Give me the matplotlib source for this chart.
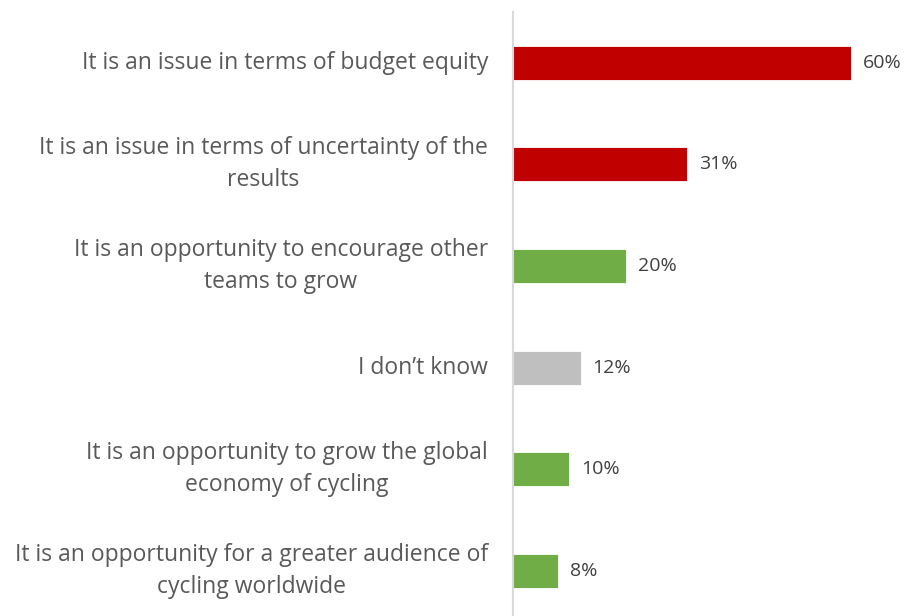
import matplotlib
matplotlib.use("Agg")
import matplotlib.pyplot as plt

categories = [
    "It is an issue in terms of budget equity",
    "It is an issue in terms of uncertainty of the\nresults",
    "It is an opportunity to encourage other\nteams to grow",
    "I don\u2019t know",
    "It is an opportunity to grow the global\neconomy of cycling",
    "It is an opportunity for a greater audience of\ncycling worldwide",
]
values = [60, 31, 20, 12, 10, 8]
colors = ["#C00000", "#C00000", "#70AD47", "#BFBFBF", "#70AD47", "#70AD47"]

plt.rcParams["font.family"] = ["Open Sans", "DejaVu Sans"]

W, H = 907, 616
fig = plt.figure(figsize=(W / 100, H / 100), dpi=100)
ax = fig.add_axes([513 / W, 0, 1 - 513 / W, 1 - 12 / H])

ypos = list(range(len(categories)))
ax.barh(ypos, values, height=0.335, color=colors, edgecolor="white", linewidth=0.6)

ax.set_xlim(0, 70.0)
ax.set_ylim(-0.5 + (H - 12) / 101.6, -0.5)

for y, v in zip(ypos, values):
    ax.annotate(f"{v}%", (v, y), xytext=(12, 0), textcoords="offset pixels",
                ha="left", va="center", fontsize=14, color="#404040")

for y, lab in zip(ypos, categories):
    ax.annotate(lab, (0, y), xytext=(-25, 0), textcoords="offset pixels",
                ha="right", va="center", multialignment="center",
                fontsize=16.5, color="#595959", linespacing=1.45,
                annotation_clip=False)

for s in ["top", "right", "bottom"]:
    ax.spines[s].set_visible(False)
ax.spines["left"].set_color("#D9D9D9")
ax.spines["left"].set_linewidth(1.5)
ax.set_xticks([])
ax.set_yticks([])

fig.savefig("out.png", dpi=100)
